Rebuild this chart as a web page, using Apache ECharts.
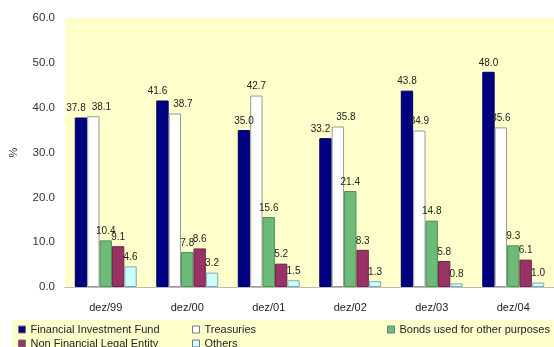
<!DOCTYPE html>
<html>
<head>
<meta charset="utf-8">
<script src="https://cdn.jsdelivr.net/npm/echarts@6/dist/echarts.min.js"></script>
<style>
html,body{margin:0;padding:0;background:#fff;}
#chart{width:554px;height:347px;}
</style>
</head>
<body>
<div id="chart"></div>
<script>
// Portfolio composition by holder, share in %
const categories = ['dez/99', 'dez/00', 'dez/01', 'dez/02', 'dez/03', 'dez/04'];
const financialInvestmentFund = [37.8, 41.6, 35.0, 33.2, 43.8, 48.0];
const treasuries = [38.1, 38.7, 42.7, 35.8, 34.9, 35.6];
const bondsOtherPurposes = [10.4, 7.8, 15.6, 21.4, 14.8, 9.3];
const nonFinancialLegalEntity = [9.1, 8.6, 5.2, 8.3, 5.8, 6.1];
const others = [4.6, 3.2, 1.5, 1.3, 0.8, 1.0];
const yTicks = [0, 10, 20, 30, 40, 50, 60];

const FONT = 'Liberation Sans, Arial, sans-serif';

const baseLabel = {
  show: true,
  position: 'top',
  distance: 4,
  fontFamily: FONT,
  fontSize: 10,
  color: '#222',
  formatter: p => p.value.toFixed(1)
};

// Nudge the two tall neighbouring labels apart when their values are close
function spreadLabels(values, partner, dx) {
  return values.map((v, i) => {
    const close = Math.abs(v - partner[i]) < 4;
    return close ? { value: v, label: { offset: [dx, 0] } } : v;
  });
}

function barSeries(name, data, color, border) {
  return {
    name: name,
    type: 'bar',
    data: data,
    barGap: '0%',
    barCategoryGap: '24%',
    itemStyle: { color: color, borderColor: border, borderWidth: 1 },
    label: baseLabel
  };
}

const legendText = { fontFamily: FONT, fontSize: 11, color: '#222' };
function legendItem(left, top, name) {
  return {
    left: left, top: top, orient: 'horizontal',
    itemWidth: 7, itemHeight: 7, itemGap: 4,
    icon: 'rect', textStyle: legendText, padding: 0,
    itemStyle: { borderColor: '#777', borderWidth: 1 },
    data: [name]
  };
}

const chart = echarts.init(document.getElementById('chart'), null, { renderer: 'canvas' });
chart.setOption({
  animation: false,
  backgroundColor: '#ffffff',
  graphic: [{
    type: 'rect', left: 12, top: 320, z: -1,
    shape: { width: 542, height: 27 },
    style: { fill: '#ffffcc' }
  }],
  grid: {
    left: 62, right: 0, top: 18, bottom: 60,
    show: true, backgroundColor: '#ffffcc', borderWidth: 0
  },
  legend: [
    legendItem(18, 324, 'Financial Investment Fund'),
    legendItem(18, 338, 'Non Financial Legal Entity'),
    legendItem(192, 324, 'Treasuries'),
    legendItem(192, 338, 'Others'),
    legendItem(387, 324, 'Bonds used for other purposes')
  ],
  xAxis: {
    type: 'category',
    data: categories,
    axisTick: { show: false },
    axisLine: { show: true, lineStyle: { color: '#bbb' } },
    axisLabel: { fontFamily: FONT, fontSize: 11, color: '#222', margin: 15 }
  },
  yAxis: {
    type: 'value',
    min: yTicks[0], max: yTicks[yTicks.length - 1], interval: 10,
    name: '%', nameLocation: 'middle', nameRotate: 90, nameGap: 46,
    nameTextStyle: { fontFamily: FONT, fontSize: 11, color: '#333' },
    splitLine: { show: false },
    axisLine: { show: false },
    axisTick: { show: false },
    axisLabel: {
      fontFamily: FONT, fontSize: 11.5, color: '#333', margin: 10,
      formatter: v => v.toFixed(1)
    }
  },
  series: [
    barSeries('Financial Investment Fund', spreadLabels(financialInvestmentFund, treasuries, -5), '#000080', '#000060'),
    barSeries('Treasuries', spreadLabels(treasuries, financialInvestmentFund, 8), '#ffffff', '#999999'),
    barSeries('Bonds used for other purposes', bondsOtherPurposes, '#6dbb78', '#4f8f58'),
    barSeries('Non Financial Legal Entity', nonFinancialLegalEntity, '#993366', '#6e2347'),
    barSeries('Others', others, '#ccffff', '#7fa7b0')
  ]
});
</script>
</body>
</html>
